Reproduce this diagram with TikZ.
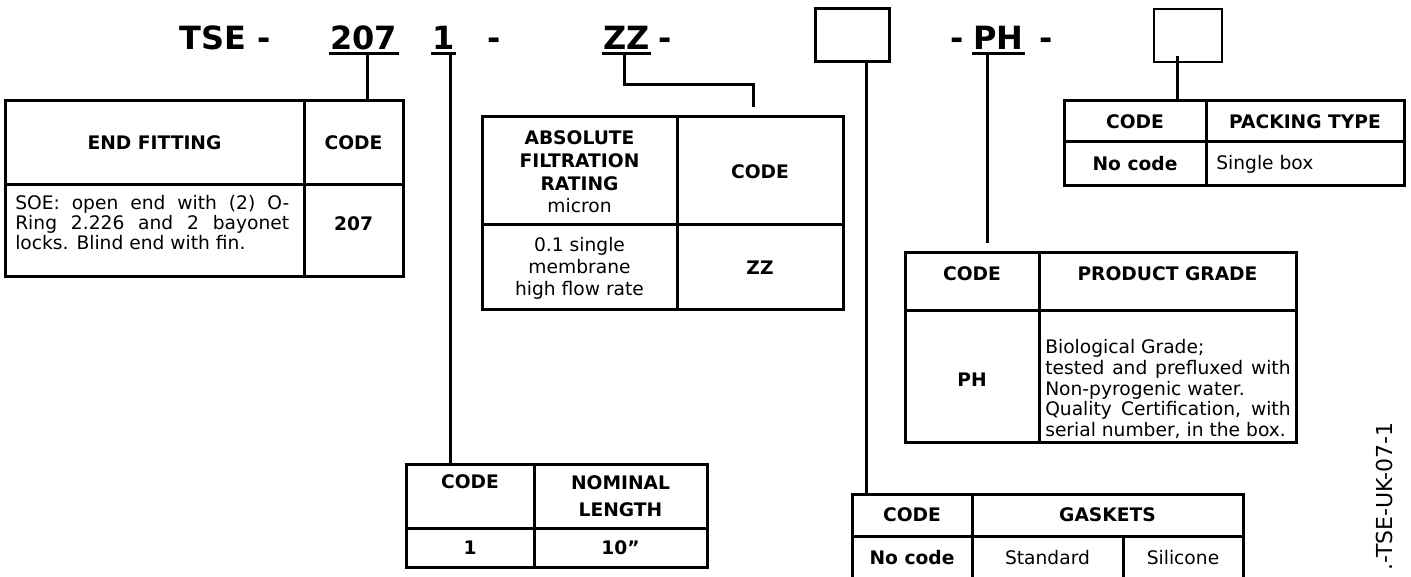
\documentclass[tikz,border=0pt]{standalone}
\usepackage{fontspec}
\setmainfont{DejaVu Sans}
\usetikzlibrary{fit}
\begin{document}
\begin{tikzpicture}[x=0.75pt,y=-0.75pt,
  ln/.style={line width=2.25pt},
  thinln/.style={line width=0.8pt},
  tbl/.style={draw,ln,inner sep=0pt},
  ttl/.style={font=\fontsize{24}{28}\selectfont\bfseries,inner sep=0pt,anchor=base west},
  hd/.style={font=\fontsize{14}{17}\selectfont\bfseries,align=center,inner sep=0pt},
  tx/.style={font=\fontsize{14}{16.5}\selectfont,align=center,inner sep=0pt},
  ul/.style={line width=2pt},
]
\useasboundingbox (0,0) rectangle (1411,577);
\clip (0,0) rectangle (1411,577);

% ---------- title row ----------
\node[ttl] (tTSE) at (179,50) {TSE -};
\node[ttl] (t207) at (330,50) {207};
\node[ttl] (tone) at (432,50) {1};
\node[ttl] (tda) at (487,50) {-};
\node[ttl] (tZZ) at (603,50) {ZZ};
\node[ttl] (tdb) at (658,50) {-};
\node[draw,ln,inner sep=0pt,fit={(815,9) (889,62)}] (box1) {};
\node[ttl] (tdc) at (950,50) {-};
\node[ttl] (tPH) at (973,50) {PH};
\node[ttl] (tdd) at (1039,50) {-};
\node[draw,thinln,inner sep=0pt,fit={(1154,9) (1222,62)}] (box2) {};

\foreach \n in {t207,tone,tZZ,tPH}
  \draw[ul] ([xshift=-1pt,yshift=-2.6pt]\n.base west) -- ([xshift=1pt,yshift=-2.6pt]\n.base east);

% ---------- END FITTING table ----------
\node[tbl,fit={(5,101) (403,277)}] (EF) {};
\draw[ln] (304,101) -- (304,277);
\draw[ln] (5,185) -- (403,185);
\node[hd] (efh1) at (154.5,143) {END FITTING};
\node[hd] (efh2) at (353.5,143) {CODE};
\node[anchor=west,inner sep=0pt,align=left,font=\fontsize{14}{15}\selectfont] (efb1) at (15,223)
  {\makebox[205.5pt][s]{SOE: open end with (2) O-}\\\makebox[205.5pt][s]{Ring 2.226 and 2 bayonet}\\locks. Blind end with fin.};
\node[hd] (efb2) at (353.5,224) {207};

% ---------- FILTRATION table ----------
\node[tbl,fit={(482,117) (843,310)}] (FR) {};
\draw[ln] (677,117) -- (677,310);
\draw[ln] (482,225) -- (843,225);
\node[align=center,inner sep=0pt,font=\fontsize{14}{17}\selectfont] (frh1) at (579.5,172)
  {\textbf{ABSOLUTE}\\\textbf{FILTRATION}\\\textbf{RATING}\\micron};
\node[hd] (frh2) at (760,172) {CODE};
\node[tx] (frb1) at (579.5,268) {0.1 single\\membrane\\high flow rate};
\node[hd] (frb2) at (760,268) {ZZ};

% ---------- NOMINAL LENGTH table ----------
\node[tbl,fit={(406,464) (707,567)}] (NL) {};
\draw[ln] (534,464) -- (534,567);
\draw[ln] (406,528) -- (707,528);
\node[hd,font=\fontsize{14}{20}\selectfont\bfseries] (nlh2) at (620.5,496.5) {NOMINAL\\LENGTH};
\node[hd,anchor=base] (nlh1) at (470,488) {CODE};
\node[hd] (nlb1) at (470,548) {1};
\node[hd] (nlb2) at (620.5,548) {10”};

% ---------- GASKETS table ----------
\node[tbl,fit={(852,494) (1243,592)}] (GK) {};
\draw[ln] (972,494) -- (972,592);
\draw[ln] (852,536) -- (1243,536);
\draw[ln] (1123,536) -- (1123,592);
\node[hd] (gkh1) at (912,515) {CODE};
\node[hd] (gkh2) at (1107.5,515) {GASKETS};
\node[hd] (gkb1) at (912,558) {No code};
\node[tx] (gkb2) at (1047.5,558) {Standard};
\node[tx] (gkb3) at (1183,558) {Silicone};

% ---------- PRODUCT GRADE table ----------
\node[tbl,fit={(905,253) (1296,442)}] (PG) {};
\draw[ln] (1039,253) -- (1039,442);
\draw[ln] (905,311) -- (1296,311);
\node[hd] (pgh1) at (972,274) {CODE};
\node[hd] (pgh2) at (1167.5,274) {PRODUCT GRADE};
\node[hd] (pgb1) at (972,380) {PH};
\node[anchor=west,inner sep=0pt,align=left,font=\fontsize{14}{15.5}\selectfont] (pgb2) at (1045,389)
  {Biological Grade;\\\makebox[184pt][s]{tested and prefluxed with}\\Non-pyrogenic water.\\\makebox[184pt][s]{Quality Certification, with}\\serial number, in the box.};

% ---------- PACKING TYPE table ----------
\node[tbl,fit={(1064,101) (1404,186)}] (PK) {};
\draw[ln] (1206,101) -- (1206,186);
\draw[ln] (1064,142) -- (1404,142);
\node[hd] (pkh1) at (1135,122) {CODE};
\node[hd] (pkh2) at (1305,122) {PACKING TYPE};
\node[hd] (pkb1) at (1135,164) {No code};
\node[tx,anchor=west] (pkb2) at (1216,164) {Single box};

% ---------- connectors ----------
\coordinate (c207) at (367,54);
\coordinate (cone) at (450,54);
\coordinate (cZZ) at (624,54);
\coordinate (cZZa) at (624,85);
\coordinate (cZZb) at (753,85);
\coordinate (cZZe) at (753,107);
\coordinate (cB1) at (866,62);
\coordinate (cPH) at (987,54);
\coordinate (cPHe) at (987,243);
\coordinate (cB2) at (1177,56);

\draw[ln] (c207) -- (c207 |- EF.north);
\draw[ln] (cone) -- (cone |- NL.north);
\draw[ln] (cZZ) -- (cZZa) -- (cZZb) -- (cZZe);
\draw[ln] (cB1) -- (cB1 |- GK.north);
\draw[ln] (cPH) -- (cPHe);
\draw[ln] (cB2) -- (cB2 |- PK.north);

% ---------- document id ----------
\node[rotate=90,anchor=east,inner sep=0pt,font=\fontsize{16.5}{19}\selectfont] (docid) at (1384,422) {.-TSE-UK-07-1};
\end{tikzpicture}
\end{document}
